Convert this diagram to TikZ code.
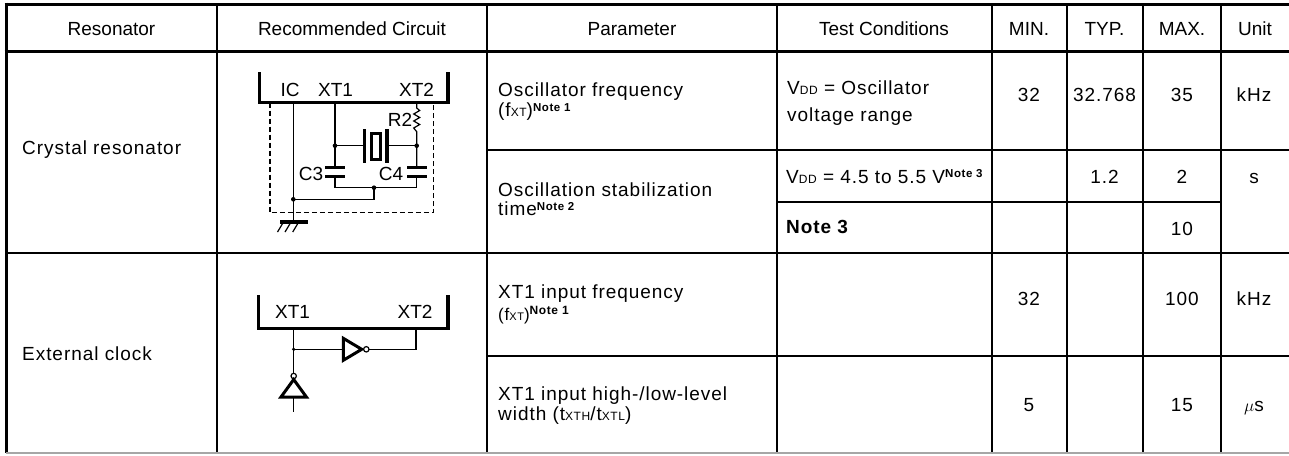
\documentclass[tikz,border=0pt]{standalone}
\usepackage{fontspec}
\setmainfont{Liberation Sans}
\newfontfamily\bodyfont{Liberation Sans}[LetterSpace=5]
\newcommand\sml[1]{{\fontsize{12}{12}\selectfont #1}}
\newcommand\notemark[1]{\raisebox{5.5pt}{\fontsize{11.5}{12}\selectfont\bfseries Note #1}}

\begin{document}
\begin{tikzpicture}[x=1pt, y=-1pt,
        hd/.style={font=\fontsize{19}{19}\selectfont, anchor=base, inner sep=0pt},
        txt/.style={font=\bodyfont\fontsize{19}{19}\selectfont, anchor=base west, inner sep=0pt},
        num/.style={font=\bodyfont\fontsize{19}{19}\selectfont, anchor=base, inner sep=0pt},
        pinlbl/.style={font=\fontsize{19}{19}\selectfont, anchor=base, inner sep=0pt},
        gridline/.style={line width=2pt},
        headrule/.style={line width=3pt},
        wire/.style={line width=1.2pt},
        plate/.style={line width=3.2pt},
        gate/.style={line width=3pt, fill=white, line join=miter}]
        \useasboundingbox (0,0) rectangle (1289,455);

        \draw[headrule] (4.5,4) -- (1289,4);
        \draw[headrule] (4.5,51.5) -- (1289,51.5);
        \draw[headrule] (6,2.5) -- (6,453);
        \foreach \x in {217,487,777,991.5,1066.5,1143,1221}
                \draw[gridline] (\x,4) -- (\x,453);
        \draw[gridline] (487,150) -- (1289,150);
        \draw[gridline] (777,202) -- (1221,202);
        \draw[gridline] (6,253) -- (1289,253);
        \draw[gridline] (487,356) -- (1289,356);
        \draw[line width=1.5pt, gray!70] (6,453) -- (1289,453);

        \node[hd] (hres) at (111.5,35) {Resonator};
        \node[hd] (hcirc) at (352,35) {Recommended Circuit};
        \node[hd] (hpar) at (632,35) {Parameter};
        \node[hd] (htest) at (884,35) {Test Conditions};
        \node[hd] (hmin) at (1029,35) {MIN.};
        \node[hd] (htyp) at (1104.5,35) {TYP.};
        \node[hd] (hmax) at (1182,35) {MAX.};
        \node[hd] (hunit) at (1255,35) {Unit};

        \node[txt] (crys) at (22,154.3) {Crystal resonator};
        \node[txt] (ext) at (22,360.7) {External clock};

        \node[txt] (p1) at (498,96.5) {Oscillator frequency};
        \node[txt] (p1s) at (498,116.5) {(f\sml{XT})\notemark1};
        \node[txt] (p2) at (498,196.7) {Oscillation stabilization};
        \node[txt] (p2s) at (498,215.7) {time\notemark2};
        \node[txt] (p3) at (498,298) {XT1 input frequency};
        \node[txt, font=\bodyfont\fontsize{17}{17}\selectfont] (p3s) at (498,320) {(f{\fontsize{11}{11}\selectfont XT})\raisebox{5.5pt}{\fontsize{12}{12}\selectfont\bfseries Note 1}};
        \node[txt] (p4) at (498,400) {XT1 input high-/low-level};
        \node[txt] (p4s) at (498,420.5) {width (t\sml{XTH}/t\sml{XTL})};

        \node[txt] (c1) at (787,94.3) {V\sml{DD} = Oscillator};
        \node[txt] (c1s) at (787,121.7) {voltage range};
        \node[txt] (c2) at (786,183.3) {V\sml{DD} = 4.5 to 5.5 V\notemark3};
        \node[txt, font=\bodyfont\fontsize{19}{19}\selectfont\bfseries] (c3) at (786,233.5) {Note 3};

        \node[num] (min1) at (1029,101) {32};
        \node[num] (typ1) at (1104.5,101) {32.768};
        \node[num] (max1) at (1182,101) {35};
        \node[num] (u1) at (1254,101) {kHz};
        \node[num] (typ2) at (1104.5,183.3) {1.2};
        \node[num] (max2) at (1182,183.3) {2};
        \node[num] (u2) at (1254,183.3) {s};
        \node[num] (max3) at (1182,235) {10};
        \node[num] (min4) at (1029,305) {32};
        \node[num] (max4) at (1182,305.5) {100};
        \node[num] (u4) at (1254,305.5) {kHz};
        \node[num] (min5) at (1029,411.7) {5};
        \node[num] (max5) at (1182,411.7) {15};
        \node[num] (u5) at (1254,411.7) {\(\mu\)s};

        % crystal resonator circuit
        \draw[plate] (259.5,72) |- (448,102.5) -- (448,72);
        \node[pinlbl] (lic) at (290,96) {IC};
        \node[pinlbl] (lxa) at (335.5,96) {XT1};
        \node[pinlbl] (lxb) at (416.5,96) {XT2};
        \coordinate (ic) at (293.3,102.5);
        \coordinate (xa) at (335,102.5);
        \coordinate (xb) at (416.7,102.5);
        \coordinate (gnd) at (293.3,222);
        \coordinate (j1) at (293.3,199.3);
        \coordinate (j2) at (374,187.7);
        \coordinate (k1) at (335,145.7);
        \coordinate (k2) at (416.7,145.7);
        \draw[wire, dash pattern=on 5pt off 3pt] (270,102.5) |- (433.3,212.7) -- (433.3,102.5);
        \draw[wire] (ic) -- (gnd);
        \draw[wire] (j1) -| (j2);
        \draw[wire] (xa) -- (k1) -- (335,167.7);
        \draw[wire] (335,176.7) |- (416.7,187.7) -- (416.7,176.7);
        \draw[wire] (k1) -- (364.7,145.7);
        \draw[wire] (387,145.7) -- (k2);
        \draw[wire] (xb) -- (416.7,108) -- (419.7,110.5) -- (413.7,114) -- (419.7,117.5)
                -- (413.7,121) -- (419.7,124.5) -- (413.7,128) -- (416.7,131.7) -- (k2) -- (416.7,167.7);
        \draw[plate] (325,167.7) -- (345,167.7) (325,176.7) -- (345,176.7);
        \draw[plate] (407,167.7) -- (426.7,167.7) (407,176.7) -- (426.7,176.7);
        \draw[plate] (364.7,129) -- (364.7,163) (387,129) -- (387,163);
        \draw[line width=3pt] (371.5,133) rectangle (380.2,159.5);
        \foreach \p in {j1,j2,k1,k2} \fill (\p) circle[radius=2.3pt];
        \draw[plate] (280,222) -- (308,222);
        \foreach \x in {277.5,285,292.7} \draw[wire] ({\x+6},222) -- (\x,232);
        \node[pinlbl] (lr2) at (400,126) {R2};
        \node[pinlbl] (lc3) at (311,180) {C3};
        \node[pinlbl] (lc4) at (391,180) {C4};

        % external clock circuit
        \draw[plate] (258.8,295) |- (448,328.3) -- (448,295);
        \node[pinlbl] (lxc) at (292.5,318.3) {XT1};
        \node[pinlbl] (lxd) at (415,318.3) {XT2};
        \coordinate (xc) at (293.7,328.3);
        \coordinate (xd) at (416,328.3);
        \coordinate (e1) at (293.7,349.3);
        \draw[wire] (xc) -- (e1) -- (343.3,349.3);
        \draw[gate] (343.3,338.3) -- (361.7,349.3) -- (343.3,360.3) -- cycle;
        \draw[wire, fill=white] (366.3,349.3) circle[radius=2.7pt];
        \draw[wire] (369,349.3) -| (xd);
        \draw[wire] (e1) -- (293.7,373.3);
        \draw[wire, fill=white] (293.7,376) circle[radius=2.7pt];
        \draw[gate] (293.7,379.5) -- (306.4,397) -- (281,397) -- cycle;
        \draw[wire] (293.7,397) -- (293.7,411.7);
        \fill (e1) circle[radius=1.8pt];
\end{tikzpicture}
\end{document}
